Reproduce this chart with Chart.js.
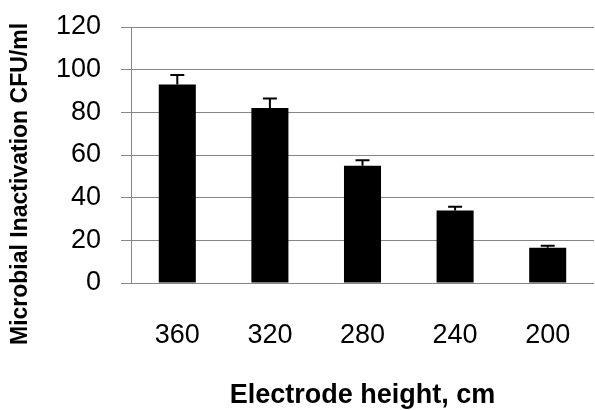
<!DOCTYPE html>
<html>
<head>
<meta charset="utf-8">
<script src="https://cdn.jsdelivr.net/npm/chart.js@4"></script>
<style>
  html, body { margin: 0; padding: 0; background: #fff; }
  #wrap { width: 595px; height: 410px; }
</style>
</head>
<body>
<div id="wrap"><canvas id="chart" width="595" height="410"></canvas></div>
<script>
// Datos
const alturas = ["360", "320", "280", "240", "200"];
const inactivacion = [93, 82, 55, 34, 16.5];
const errores = [4.5, 4.5, 2.5, 1.8, 1.0];
const yTicks = [0, 20, 40, 60, 80, 100, 120];

const tituloY = "Microbial Inactivation CFU/ml";
const tituloX = "Electrode height, cm";

const GRIS = "#868686";
const FUENTE = "'Liberation Sans', Arial, sans-serif";

// Barras de error (solo hacia arriba, como en Excel)
const errorBarsPlugin = {
  id: "errorBars",
  afterDatasetsDraw(chart) {
    const ctx = chart.ctx;
    const y = chart.scales.y;
    const meta = chart.getDatasetMeta(0);
    ctx.save();
    ctx.strokeStyle = "#000";
    ctx.lineWidth = 2;
    meta.data.forEach((bar, i) => {
      const top = y.getPixelForValue(inactivacion[i] + errores[i]);
      const base = y.getPixelForValue(inactivacion[i]);
      ctx.beginPath();
      ctx.moveTo(bar.x, base);
      ctx.lineTo(bar.x, top);
      ctx.moveTo(bar.x - 7, top);
      ctx.lineTo(bar.x + 7, top);
      ctx.stroke();
    });
    ctx.restore();
  }
};

// Titulo del eje Y (en la figura no esta centrado sobre el area)
const yTitlePlugin = {
  id: "yTitle",
  afterDraw(chart) {
    const ctx = chart.ctx;
    ctx.save();
    ctx.translate(21, 184);
    ctx.rotate(-Math.PI / 2);
    ctx.font = "bold 23px " + FUENTE;
    ctx.fillStyle = "#000";
    ctx.textAlign = "center";
    ctx.textBaseline = "middle";
    ctx.fillText(tituloY, 0, 0);
    ctx.restore();
  }
};

new Chart(document.getElementById("chart"), {
  type: "bar",
  data: {
    labels: alturas,
    datasets: [{
      data: inactivacion,
      backgroundColor: "#000",
      borderWidth: 0,
      barPercentage: 0.4,
      categoryPercentage: 1
    }]
  },
  options: {
    responsive: false,
    animation: false,
    events: [],
    layout: { padding: { top: 27, right: 1, left: 0, bottom: 0 } },
    plugins: {
      legend: { display: false },
      tooltip: { enabled: false }
    },
    scales: {
      x: {
        afterFit(scale) {
          scale.height = 127;
          scale.paddingLeft = 0;
          scale.paddingRight = 0;
        },
        grid: { display: false, drawTicks: false },
        border: { display: false },
        ticks: {
          color: "#000",
          padding: 36,
          font: { family: FUENTE, size: 27 }
        },
        title: {
          display: true,
          text: tituloX,
          color: "#000",
          padding: { top: 0, bottom: 0 },
          font: { family: FUENTE, size: 27, weight: "bold", lineHeight: 1.05 }
        }
      },
      y: {
        min: 0,
        max: 120,
        afterFit(scale) {
          scale.width = 131;
          scale.paddingTop = 0;
          scale.paddingBottom = 0;
        },
        afterBuildTicks(scale) { scale.ticks = yTicks.map(v => ({ value: v })); },
        grid: { color: GRIS, lineWidth: 1, tickLength: 10 },
        border: { color: GRIS, width: 1 },
        ticks: {
          color: "#000",
          padding: 20,
          font: { family: FUENTE, size: 27 }
        }
      }
    }
  },
  plugins: [errorBarsPlugin, yTitlePlugin]
});
</script>
</body>
</html>
